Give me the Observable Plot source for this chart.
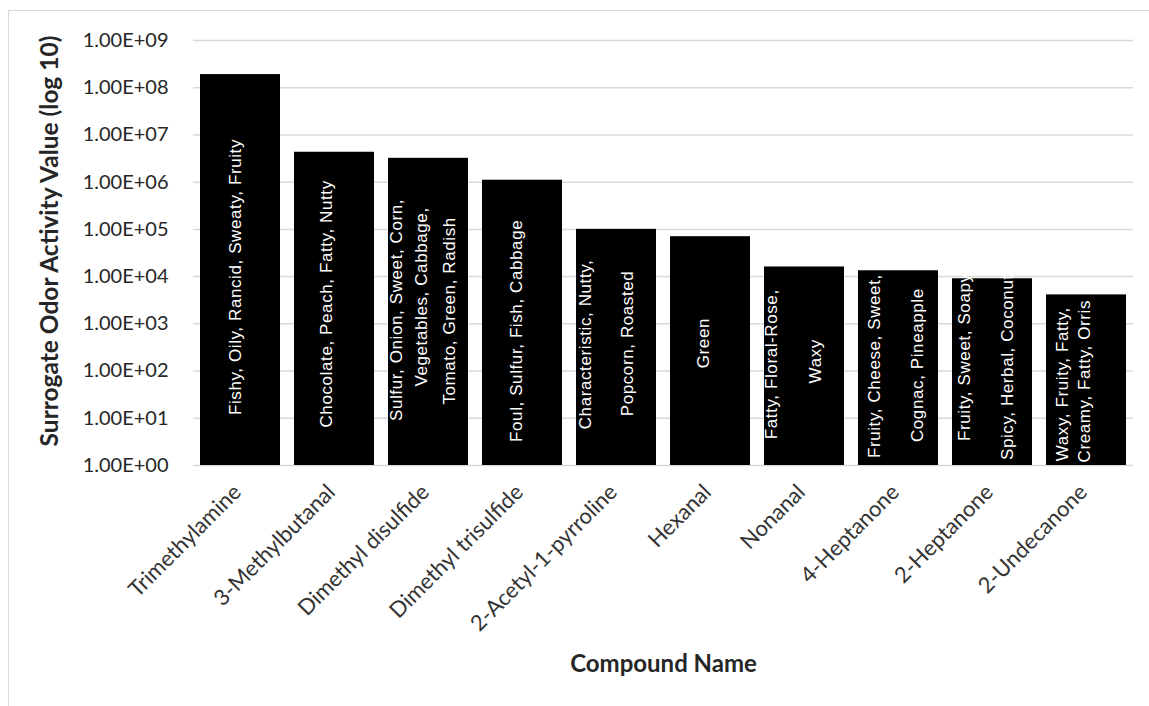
<!DOCTYPE html>
<html>
<head>
<meta charset="utf-8">
<script src="https://cdn.jsdelivr.net/npm/d3@7"></script>
<script src="https://cdn.jsdelivr.net/npm/@observablehq/plot@0.6"></script>
<style>
  html, body { margin: 0; padding: 0; background: #fff; }
  #wrap { position: relative; width: 1149px; height: 706px; overflow: hidden; }
  #border { position: absolute; left: 8px; top: 10px; right: 0; bottom: 0;
            border-left: 1.5px solid #d9d9d9; border-top: 1.5px solid #d9d9d9; }
  #chart { position: absolute; left: 0; top: 0; }
  g[font-family="Liberation Sans"] text { letter-spacing: 0.6px; }
</style>
</head>
<body>
<div id="wrap"><div id="border"></div><div id="chart"></div></div>
<script>
// Compounds and their surrogate odor activity values
const compounds = [
  "Trimethylamine", "3-Methylbutanal", "Dimethyl disulfide", "Dimethyl trisulfide",
  "2-Acetyl-1-pyrroline", "Hexanal", "Nonanal", "4-Heptanone", "2-Heptanone", "2-Undecanone"
];
const oav = [1.9e8, 4.3e6, 3.2e6, 1.1e6, 1.0e5, 7.0e4, 1.6e4, 1.33e4, 9.0e3, 4.1e3];

// Odor descriptors written inside each bar, one entry per text line
const odorDescriptors = [
  ["Fishy, Oily, Rancid, Sweaty, Fruity"],
  ["Chocolate, Peach, Fatty, Nutty"],
  ["Sulfur, Onion, Sweet, Corn,", "Vegetables, Cabbage,", "Tomato, Green, Radish"],
  ["Foul, Sulfur, Fish, Cabbage"],
  ["Characteristic, Nutty,", "Popcorn, Roasted"],
  ["Green"],
  ["Fatty, Floral-Rose,", "Waxy"],
  ["Fruity, Cheese, Sweet,", "Cognac, Pineapple"],
  ["Fruity, Sweet, Soapy,", "Spicy, Herbal, Coconut"],
  ["Waxy, Fruity, Fatty,", "Creamy, Fatty, Orris"]
];

// Log axis ticks
const yTickValues = [1e0, 1e1, 1e2, 1e3, 1e4, 1e5, 1e6, 1e7, 1e8, 1e9];
const yTickLabels = ["1.00E+00", "1.00E+01", "1.00E+02", "1.00E+03", "1.00E+04",
                     "1.00E+05", "1.00E+06", "1.00E+07", "1.00E+08", "1.00E+09"];

const xTitle = "Compound Name";
const yTitle = "Surrogate Odor Activity Value (log 10)";

// Nudges [dx, dy] in pixels for each descriptor line, relative to the bar's centre
const descriptorNudge = [
  [[-5, 7]],
  [[-8, -5]],
  [[-32, -2], [-7, -15], [21, -1]],
  [[-6, 8]],
  [[-31, -3], [11, -4]],
  [[-7, -8]],
  [[-33, -2], [11, -5]],
  [[-24, -2], [19, -3]],
  [[-28, -17], [15, -5]],
  [[-24, 4], [-2, 1]]
];

const bars = compounds.map((compound, i) => ({compound, value: oav[i]}));

const descriptorMarks = [];
bars.forEach((bar, i) => {
  odorDescriptors[i].forEach((line, j) => {
    const [dx, dy] = descriptorNudge[i][j];
    descriptorMarks.push(Plot.text([bar], {
      x: "compound",
      y: d => Math.sqrt(d.value),   // middle of the bar on the log scale
      text: () => line,
      rotate: -90,
      dx, dy,
      fill: "white",
      fontSize: 17,
      fontFamily: "Liberation Sans"
    }));
  });
});

const chart = Plot.plot({
  width: 1149,
  height: 706,
  marginTop: 40,
  marginBottom: 241,
  marginLeft: 193,
  marginRight: 16,
  style: {fontFamily: "Lato", background: "transparent", color: "#262626", overflow: "visible"},
  x: {domain: compounds, paddingInner: 0.15, paddingOuter: 0.075},
  y: {type: "log", domain: [1, 1e9]},
  marks: [
    Plot.ruleY(yTickValues, {stroke: "#d9d9d9", strokeWidth: 1.5}),
    Plot.barY(bars, {x: "compound", y1: 1, y2: "value", fill: "black"}),
    ...descriptorMarks,
    Plot.axisY({
      ticks: yTickValues,
      tickFormat: d => yTickLabels[yTickValues.indexOf(d)],
      tickSize: 0, tickPadding: 25, fontSize: 20, label: null
    }),
    Plot.axisX({tickRotate: -45, tickSize: 0, tickPadding: 22, dx: -3, dy: 1, fontSize: 22,
                label: null, fill: "#333"}),
    Plot.text([yTitle], {frameAnchor: "left", textAnchor: "middle", dx: -143, dy: -12,
                         rotate: -90, fontWeight: "bold", fontSize: 24.5, fill: "#262626"}),
    Plot.text([xTitle], {frameAnchor: "bottom", dy: 206,
                         fontWeight: "bold", fontSize: 24, fill: "#262626"})
  ]
});

document.getElementById("chart").appendChild(chart);
</script>
</body>
</html>
